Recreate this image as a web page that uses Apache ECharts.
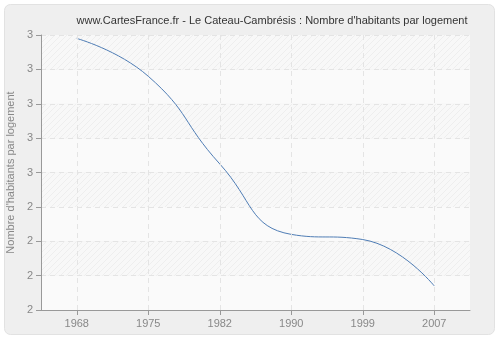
<!DOCTYPE html>
<html><head><meta charset="utf-8">
<script src="https://cdn.jsdelivr.net/npm/echarts@6/dist/echarts.min.js"></script>
<style>html,body{margin:0;padding:0;background:#fff}#c{width:500px;height:340px}</style>
</head><body><div id="c"></div>
<script>
var categories = ["1968","1975","1982","1990","1999","2007"];
var values = [2.99, 2.88, 2.625, 2.42, 2.405, 2.27];
var yTickLabels = ["2","2","2","2","3","3","3","3","3"];
var titleText = "www.CartesFrance.fr - Le Cateau-Cambrésis : Nombre d'habitants par logement";
var yName = "Nombre d'habitants par logement";

var pc = document.createElement('canvas');
pc.width = 6; pc.height = 6;
var g = pc.getContext('2d');
g.fillStyle = '#f8f8f8'; g.fillRect(0,0,6,6);
g.strokeStyle = '#eeeeee'; g.lineWidth = 1;
g.beginPath(); g.moveTo(-1,7); g.lineTo(7,-1); g.moveTo(-4,4); g.lineTo(4,-4); g.moveTo(2,10); g.lineTo(10,2); g.stroke();

var FONT = 'Liberation Sans';
var chart = echarts.init(document.getElementById('c'), null, {renderer:'canvas'});
chart.setOption({
  backgroundColor: '#ffffff',
  animation: false,
  graphic: [{type:'rect', z:-10, shape:{x:4.5,y:4.5,width:490,height:330,r:6}, style:{fill:'#efefef', stroke:'#e2e2e2', lineWidth:1}}],
  title: {text: titleText, left: 267, top: 10, textAlign:'center', textStyle:{fontFamily:FONT, fontSize:11, fontWeight:'normal', color:'#333'}},
  grid: {left:41, right:30, top:35, bottom:30, containLabel:false, outerBoundsMode:'none', show:true, backgroundColor:'transparent', borderWidth:0},
  xAxis: {type:'category', data: categories, boundaryGap:true,
    axisLine:{show:true, lineStyle:{color:'#999'}},
    axisTick:{show:true, alignWithLabel:true, length:5, lineStyle:{color:'#999'}},
    axisLabel:{color:'#888', fontFamily:FONT, fontSize:11, margin:8},
    splitLine:{show:false}
  },
  yAxis: {type:'value', min:2.2, max:3.0, interval:0.1,
    name: yName, nameLocation:'middle', nameGap:19, nameRotate:90,
    nameTextStyle:{color:'#888', fontFamily:FONT, fontSize:11},
    axisLine:{show:true, lineStyle:{color:'#999'}},
    axisTick:{show:true, length:5, lineStyle:{color:'#999'}},
    axisLabel:{color:'#888', fontFamily:FONT, fontSize:11, margin:8,
      formatter:function(v,i){return yTickLabels[i];}},
    splitLine:{show:true, lineStyle:{color:'#e4e4e4', type:[5,4]}},
    splitArea:{show:true, areaStyle:{color:['#fafafa', {image: pc, repeat:'repeat'}]}}
  },
  series: [{type:'line', data: values, smooth:0.5, showSymbol:false, symbol:'none',
    lineStyle:{color:'#4f7db5', width:1}, itemStyle:{color:'#4f7db5'},
    markLine:{silent:true, symbol:'none', label:{show:false},
      lineStyle:{color:'#e4e4e4', type:[5,4], width:1},
      data: categories.map(function(c){return {xAxis:c};})}
  }]
});
</script></body></html>
